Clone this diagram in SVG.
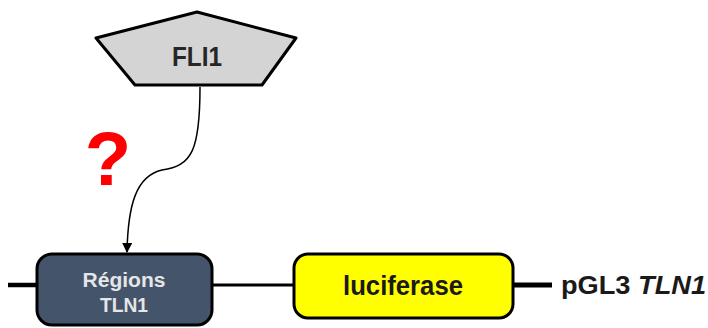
<svg xmlns="http://www.w3.org/2000/svg" width="708" height="328" viewBox="0 0 708 328">
<style>
.lbl{font-family:"Liberation Sans",Arial,sans-serif;font-weight:bold;text-anchor:middle}
</style>
<defs>
<marker id="ah" markerWidth="10" markerHeight="10" refX="9" refY="5" orient="auto" markerUnits="userSpaceOnUse">
<path d="M0,0 L10,5 L0,10 Z" fill="#000"/>
</marker>
</defs>
<rect width="708" height="328" fill="#fff"/>
<g id="backbone" stroke="#000" fill="none">
<line x1="8" y1="285" x2="38" y2="285" stroke-width="4.5"/>
<line x1="212" y1="285" x2="295" y2="285" stroke-width="3"/>
<line x1="512" y1="285" x2="552" y2="285" stroke-width="5"/>
</g>
<g id="connectors">
<path d="M200,87 C200,150 192,166 162,170 C136,176 128,205 127,252" fill="none" stroke="#000" stroke-width="1.5" marker-end="url(#ah)"/>
</g>
<g id="fli1">
<polygon points="197,12 296,38 262,85 135,85 96,38" fill="#d4d4d4" stroke="#000" stroke-width="3" stroke-linejoin="round"/>
<text class="lbl" x="197" y="66" font-size="27" fill="#262626" textLength="50" lengthAdjust="spacingAndGlyphs">FLI1</text>
</g>
<g id="question">
<text class="lbl" x="108" y="185" font-size="76" fill="#ff0000">?</text>
</g>
<g id="regions">
<rect x="37" y="254" width="175" height="71" rx="15" fill="#44546a" stroke="#000" stroke-width="3"/>
<text class="lbl" x="124" y="287" font-size="20" fill="#e6e6e6" textLength="83" lengthAdjust="spacingAndGlyphs">Régions</text>
<text class="lbl" x="124" y="312" font-size="20" fill="#e6e6e6" textLength="48" lengthAdjust="spacingAndGlyphs">TLN1</text>
</g>
<g id="luciferase">
<rect x="294" y="254" width="219" height="64" rx="14" fill="#ffff00" stroke="#000" stroke-width="3"/>
<text class="lbl" x="403" y="295" font-size="28" fill="#1a1a1a" textLength="120" lengthAdjust="spacingAndGlyphs">luciferase</text>
</g>
<g id="plasmid">
<text x="561" y="294" font-family="'Liberation Sans',Arial,sans-serif" font-weight="bold" font-size="26" fill="#1a1a1a" textLength="145" lengthAdjust="spacingAndGlyphs">pGL3 <tspan font-style="italic">TLN1</tspan></text>
</g>
</svg>
